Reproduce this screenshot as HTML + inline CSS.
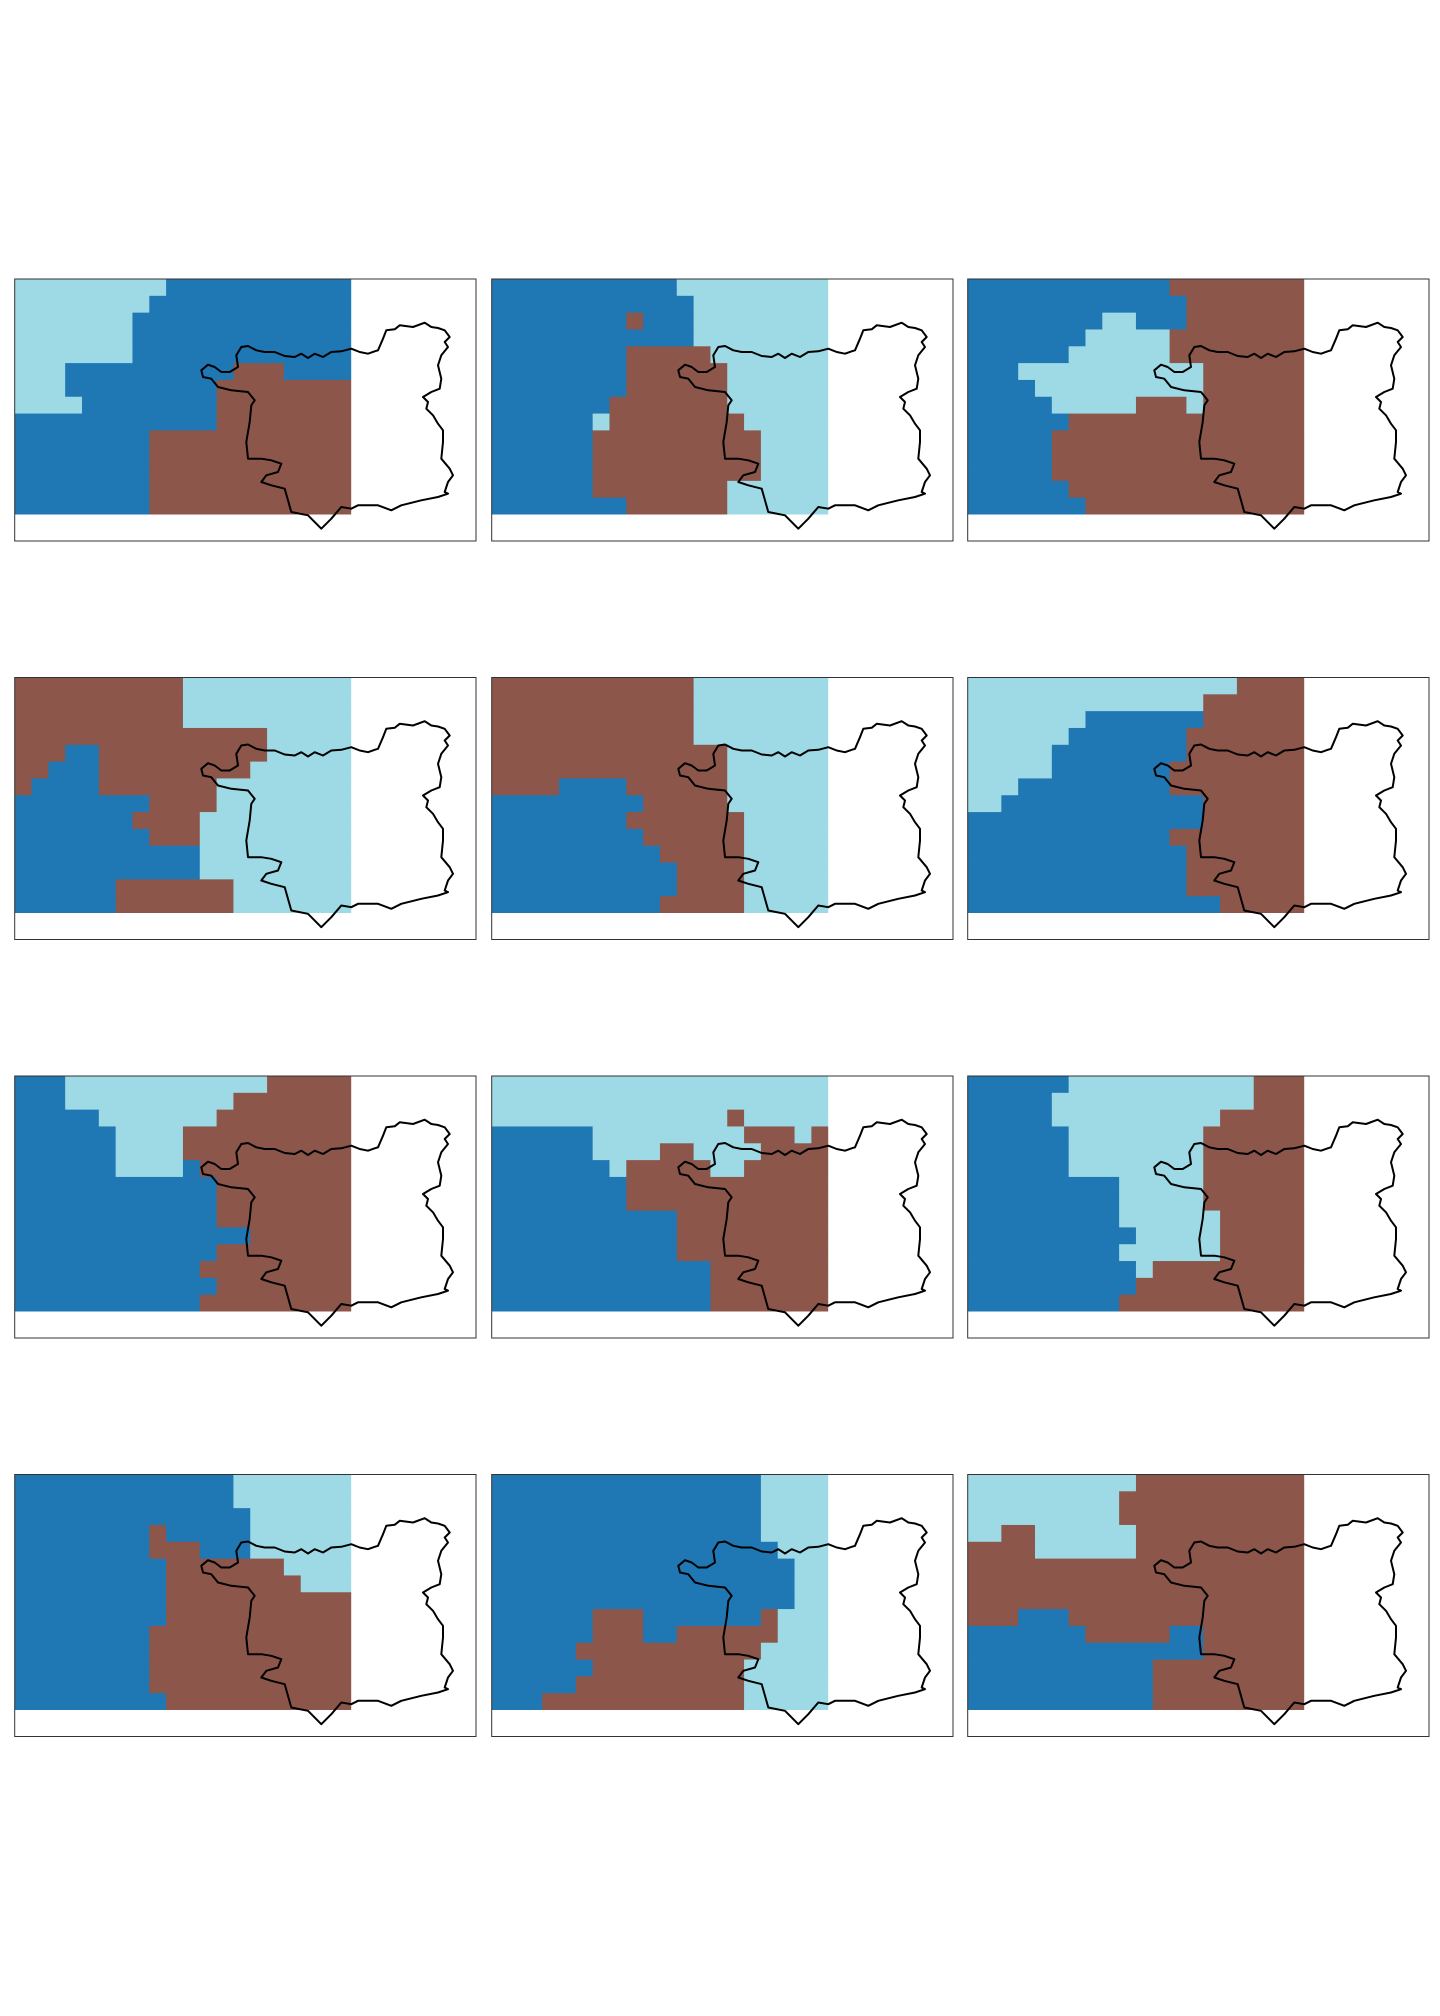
<!DOCTYPE html>
<html>
<head>
<meta charset="utf-8">
<style>
  html,body{margin:0;padding:0;background:#ffffff;}
  body{width:1440px;height:2016px;overflow:hidden;font-family:"Liberation Sans",sans-serif;}
  svg{display:block;}
</style>
</head>
<body>
<svg id="fig" width="1440" height="2016" viewBox="0 0 1440 2016" xmlns="http://www.w3.org/2000/svg"></svg>
<script>
// Category colours (class codes used in grids)
const classCodes = ["B", "L", "R"];
const classColors = {B: "#1f77b4", L: "#9edae5", R: "#8c564b"};

// Per-panel grids: 14 rows x 20 columns, run-length encoded (count + class)
const panel1 = ["9L11B","8L12B","7L13B","7L13B","7L13B","3L10B3R4B","3L9B8R","4L8B8R","12B8R","8B12R","8B12R","8B12R","8B12R","8B12R"];
const panel2 = ["11B9L","12B8L","8B1R3B8L","12B8L","8B5R7L","8B6R6L","8B6R6L","7B7R6L","6B1L8R5L","6B10R4L","6B10R4L","6B10R4L","6B8R6L","8B6R6L"];
const panel3 = ["12B8R","13B7R","8B2L3B7R","7B5L8R","6B6L8R","3B11L6R","4B10L6R","5B5L3R1L6R","6B14R","5B15R","5B15R","5B15R","6B14R","7B13R"];
const panel4 = ["10R10L","10R10L","10R10L","15R5L","3R2B10R5L","2R3B9R6L","1R4B7R8L","8B4R8L","7B4R9L","8B3R9L","11B9L","11B9L","6B7R7L","6B7R7L"];
const panel5 = ["12R8L","12R8L","12R8L","12R8L","14R6L","14R6L","4R4B6R6L","9B5R6L","8B7R5L","9B6R5L","10B5R5L","11B4R5L","11B4R5L","10B5R5L"];
const panel6 = ["16L4R","14L6R","7L7B6R","6L7B7R","5L8B7R","5L7B8R","3L9B8R","2L12B6R","14B6R","12B8R","13B7R","13B7R","13B7R","15B5R"];
const panel7 = ["3B12L5R","3B10L7R","5B7L8R","6B4L10R","6B4L10R","6B4L1B9R","12B8R","12B8R","12B8R","14B6R","12B8R","11B9R","12B8R","11B9R"];
const panel8 = ["20L","20L","14L1R5L","6B9L3R1L1R","6B4L2R4L4R","7B1L5R2L5R","8B12R","8B12R","11B9R","11B9R","11B9R","13B7R","13B7R","13B7R"];
const panel9 = ["6B11L3R","5B12L3R","5B10L5R","6B8L6R","6B8L6R","6B8L6R","9B5L6R","9B5L6R","9B6L5R","10B5L5R","9B6L5R","10B1L9R","10B10R","9B11R"];
const panel10 = ["13B7L","13B7L","14B6L","8B1R5B6L","8B3R3B6L","9B7R4L","9B8R3L","9B11R","9B11R","8B12R","8B12R","8B12R","8B12R","9B11R"];
const panel11 = ["16B4L","16B4L","16B4L","16B4L","17B3L","18B2L","18B2L","18B2L","6B3R7B1R3L","6B3R2B6R3L","5B11R4L","6B9R5L","5B10R5L","3B12R5L"];
const panel12 = ["10L10R","9L11R","9L11R","2L2R6L10R","4R6L10R","20R","20R","20R","3R3B14R","7B5R2B6R","14B6R","11B9R","11B9R","11B9R"];
const panels = [panel1,panel2,panel3,panel4,panel5,panel6,panel7,panel8,panel9,panel10,panel11,panel12];

// Outline of region (traced, in 3x zoom units relative to panel)
const outlineZ = [[580,295],[600,278],[620,285],[640,300],[665,300],[690,285],[685,250],[700,225],[720,222],[745,235],[770,240],[800,240],[830,252],[860,255],[880,245],[900,258],[920,245],[945,255],[970,240],[1000,238],[1030,230],[1055,240],[1080,245],[1100,238],[1110,235],[1125,200],[1135,175],[1160,172],[1175,160],[1215,165],[1250,152],[1270,165],[1290,168],[1310,175],[1325,195],[1310,210],[1320,225],[1300,250],[1290,280],[1300,320],[1295,350],[1270,360],[1245,375],[1260,390],[1255,410],[1275,430],[1290,455],[1305,475],[1305,510],[1300,560],[1325,590],[1335,610],[1320,630],[1310,660],[1320,665],[1290,675],[1240,685],[1180,700],[1150,715],[1110,700],[1050,700],[1030,710],[1000,705],[970,740],[940,770],[900,730],[850,720],[830,650],[790,640],[760,630],[775,610],[810,600],[820,575],[790,565],[760,560],[720,560],[715,510],[725,450],[730,400],[740,385],[720,360],[670,355],[630,345],[610,320],[585,315],[580,295]];

const NS = "http://www.w3.org/2000/svg";
const svg = document.getElementById("fig");
const colX = [14.7, 491.7, 967.7];
const rowY = [279, 677.5, 1076, 1474.5];
const PW = 461.3, PH = 262;
const NC = 20, NR = 14;
const CW = 336.5 / NC, CH = 235.5 / NR;

function parseRow(s){
  const out = [];
  const re = /(\d+)([BLR])/g; let m;
  while((m = re.exec(s))){ for(let i=0;i<+m[1];i++) out.push(m[2]); }
  return out;
}
function xScale(px, c){ return px + c*CW; }
function yScale(py, r){ return py + r*CH; }

panels.forEach((grid, pi) => {
  const px = colX[pi % 3], py = rowY[Math.floor(pi / 3)];
  const g = document.createElementNS(NS, "g");
  
  
  svg.appendChild(g);
  grid.forEach((rowStr, r) => {
    const cells = parseRow(rowStr);
    let c = 0;
    while (c < cells.length) {
      let e = c;
      while (e < cells.length && cells[e] === cells[c]) e++;
      const rect = document.createElementNS(NS, "rect");
      
      
      const x0 = xScale(px, c), x1 = xScale(px, e);
      const y0 = yScale(py, r), y1 = yScale(py, r+1);
      rect.setAttribute("x", x0.toFixed(2));
      rect.setAttribute("y", y0.toFixed(2));
      rect.setAttribute("width", (x1 - x0 + (e < NC ? 0.4 : 0)).toFixed(2));
      rect.setAttribute("height", (y1 - y0 + (r < NR-1 ? 0.4 : 0)).toFixed(2));
      rect.setAttribute("fill", classColors[cells[c]]);
      g.appendChild(rect);
      c = e;
    }
  });
  const path = document.createElementNS(NS, "path");
  
  
  const d = outlineZ.map((p, i) => (i ? "L" : "M") + (px + p[0]/3 - 6.7).toFixed(1) + " " + (py + p[1]/3 - 7).toFixed(1)).join(" ") + " Z";
  path.setAttribute("d", d);
  path.setAttribute("fill", "none");
  path.setAttribute("stroke", "#000");
  path.setAttribute("stroke-width", "2");
  path.setAttribute("stroke-linejoin", "round");
  g.appendChild(path);
  const frame = document.createElementNS(NS, "rect");
  
  
  frame.setAttribute("x", px);
  frame.setAttribute("y", py);
  frame.setAttribute("width", PW);
  frame.setAttribute("height", PH);
  frame.setAttribute("fill", "none");
  frame.setAttribute("stroke", "#333");
  frame.setAttribute("stroke-width", "1");
  g.appendChild(frame);
});
</script>
</body>
</html>
